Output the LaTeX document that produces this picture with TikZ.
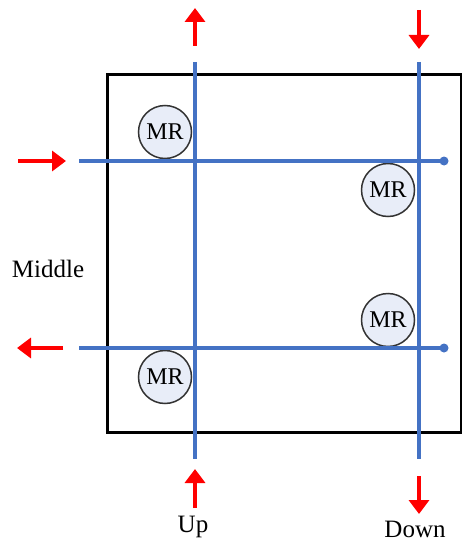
\documentclass[tikz,border=0pt]{standalone}
\usepackage{fontspec}
\setmainfont{Liberation Serif}
\usetikzlibrary{arrows.meta}
\definecolor{flowblue}{RGB}{68,114,196}
\definecolor{mrfill}{RGB}{232,237,248}
\tikzset{
  bus/.style={draw=flowblue, line width=4pt},
  busend/.style={circle, fill=flowblue, inner sep=0pt, minimum size=9pt},
  flow/.style={draw=red, line width=4pt, -{Triangle[length=14pt,width=20pt]}},
  mr/.style={circle, draw=black!80, line width=1.5pt, fill=mrfill, minimum size=53pt, inner sep=0pt, font=\fontsize{24}{26}\selectfont},
  lbl/.style={font=\fontsize{25}{27}\selectfont, inner sep=0pt}
}
\begin{document}
\begin{tikzpicture}[x=1pt,y=-1pt]
\useasboundingbox (0,0) rectangle (462,543);
% outer frame
\draw[line width=3pt] (107,74) rectangle (461,432);
% MR units
\node[mr] (mr1) at (165,132) {MR};
\node[mr] (mr2) at (388,190) {MR};
\node[mr] (mr3) at (388,320) {MR};
\node[mr] (mr4) at (165,377) {MR};
% bus end points
\coordinate (v1t) at (195,62);
\coordinate (v1b) at (195,459);
\coordinate (v2t) at (419,62);
\coordinate (v2b) at (419,459);
\coordinate (h1l) at (79,161);
\coordinate (h2l) at (79,348);
\node[busend] (h1r) at (444,161) {};
\node[busend] (h2r) at (444,348) {};
% buses
\draw[bus] (v1t) -- (v1b);
\draw[bus] (v2t) -- (v2b);
\draw[bus] (h1l) -- (h1r.center);
\draw[bus] (h2l) -- (h2r.center);
% flow arrows
\coordinate (a1s) at (195,46);  \coordinate (a1e) at (195,8);
\coordinate (a2s) at (419,10);  \coordinate (a2e) at (419,49);
\coordinate (a3s) at (18,161);  \coordinate (a3e) at (66,161);
\coordinate (a4s) at (63,348);  \coordinate (a4e) at (17,348);
\coordinate (a5s) at (195,508); \coordinate (a5e) at (195,469);
\coordinate (a6s) at (419,476); \coordinate (a6e) at (419,514);
\draw[flow] (a1s) -- (a1e);
\draw[flow] (a2s) -- (a2e);
\draw[flow] (a3s) -- (a3e);
\draw[flow] (a4s) -- (a4e);
\draw[flow] (a5s) -- (a5e);
\draw[flow] (a6s) -- (a6e);
% labels
\node[lbl] (middle) at (48,269) {Middle};
\node[lbl] (up) at (193,527) {Up};
\node[lbl] (down) at (415,529) {Down};
\end{tikzpicture}
\end{document}
